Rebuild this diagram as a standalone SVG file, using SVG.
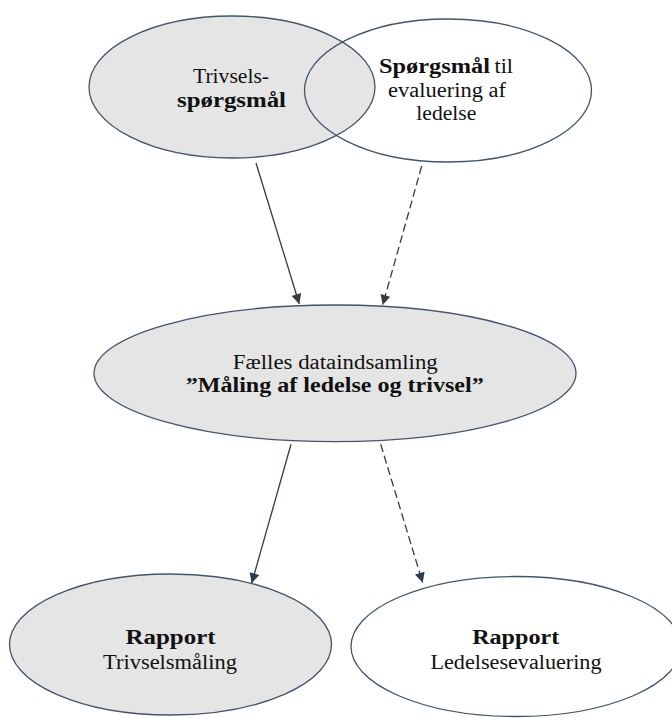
<svg xmlns="http://www.w3.org/2000/svg" width="672" height="718" viewBox="0 0 672 718">
<style>
.node{stroke:#44546A;stroke-width:1.3}
.gray{fill:#E5E5E5}
.white{fill:#FFFFFF}
.none{fill:none}
.t{font-family:"Liberation Serif","Times New Roman",serif;font-size:20.5px;fill:#111;text-anchor:middle}
.b{font-weight:bold}
.l{text-anchor:start}
.c1{stroke:#3A3A3A;stroke-width:1.3;fill:none}
.c2{stroke:#2F3B4F;stroke-width:1.3;fill:none}
.dash{stroke-dasharray:8 4}
</style>
<defs>
<marker id="ah1" viewBox="0 0 10 10" refX="10" refY="5" markerWidth="12" markerHeight="10" markerUnits="userSpaceOnUse" orient="auto">
<path d="M0,0 L10,5 L0,10 z" fill="#3A3A3A"/>
</marker>
<marker id="ah2" viewBox="0 0 10 10" refX="10" refY="5" markerWidth="12" markerHeight="10" markerUnits="userSpaceOnUse" orient="auto">
<path d="M0,0 L10,5 L0,10 z" fill="#2F3B4F"/>
</marker>
</defs>
<g id="trivsel-spm">
<ellipse class="node gray" cx="232" cy="87" rx="143" ry="71"/>
</g>
<g id="ledelse-spm">
<ellipse class="node none" cx="448" cy="90.5" rx="143.5" ry="71.5"/>
</g>
<g id="trivsel-spm-text">
<text class="t" x="231" y="83" textLength="76" lengthAdjust="spacingAndGlyphs">Trivsels-</text>
<text class="t b" x="231.5" y="107" textLength="109" lengthAdjust="spacingAndGlyphs">spørgsmål</text>
</g>
<g id="ledelse-spm-text">
<text class="t b l" x="379" y="73" textLength="111" lengthAdjust="spacingAndGlyphs">Spørgsmål</text>
<text class="t l" x="494.5" y="73" textLength="18.5" lengthAdjust="spacingAndGlyphs">til</text>
<text class="t" x="447" y="97" textLength="118" lengthAdjust="spacingAndGlyphs">evaluering af</text>
<text class="t" x="446.3" y="120" textLength="60" lengthAdjust="spacingAndGlyphs">ledelse</text>
</g>
<g id="dataindsamling">
<ellipse class="node gray" cx="335" cy="373.3" rx="241" ry="68.3"/>
<text class="t" x="335.3" y="369" textLength="205" lengthAdjust="spacingAndGlyphs">Fælles dataindsamling</text>
<text class="t b" x="334.7" y="392" textLength="298" lengthAdjust="spacingAndGlyphs">”Måling af ledelse og trivsel”</text>
</g>
<g id="rapport-trivsel">
<ellipse class="node gray" cx="170.5" cy="644.5" rx="161" ry="70.5"/>
<text class="t b" x="170.5" y="644" textLength="90" lengthAdjust="spacingAndGlyphs">Rapport</text>
<text class="t" x="170" y="669" textLength="134" lengthAdjust="spacingAndGlyphs">Trivselsmåling</text>
</g>
<g id="rapport-ledelse">
<ellipse class="node white" cx="516" cy="646.5" rx="165" ry="70"/>
<text class="t b" x="515.7" y="644" textLength="87" lengthAdjust="spacingAndGlyphs">Rapport</text>
<text class="t" x="516" y="669" textLength="171" lengthAdjust="spacingAndGlyphs">Ledelsesevaluering</text>
</g>
<g id="connectors">
<line class="c1" x1="256" y1="163" x2="299.3" y2="304" marker-end="url(#ah1)"/>
<line class="c1 dash" x1="421.7" y1="166" x2="382.7" y2="305" marker-end="url(#ah1)"/>
<line class="c2" x1="291" y1="444.3" x2="251.7" y2="583.3" marker-end="url(#ah2)"/>
<line class="c2 dash" x1="380.7" y1="444.3" x2="422.7" y2="582.7" marker-end="url(#ah2)"/>
</g>
</svg>
